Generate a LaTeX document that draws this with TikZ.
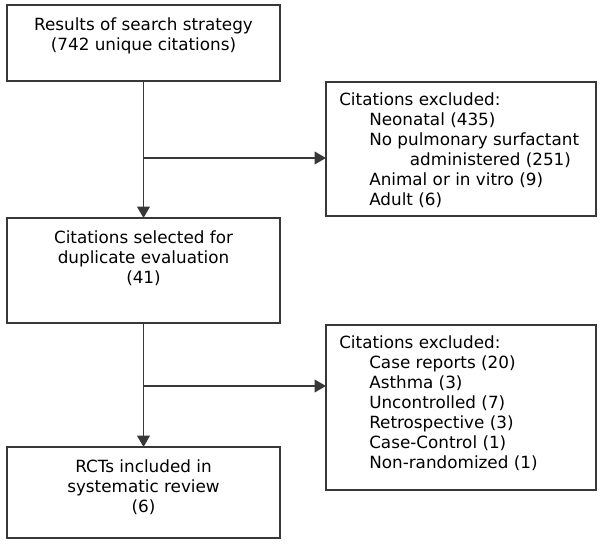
\documentclass[tikz,border=0pt]{standalone}
\usepackage{fontspec}
\setmainfont{DejaVu Sans}
\usepackage{tikz}
\usetikzlibrary{positioning,arrows.meta}

\begin{document}
\begin{tikzpicture}[x=0.75pt,y=-0.75pt,
	box/.style={shape=rectangle,draw=black!78,line width=1.1pt,inner sep=0pt,outer sep=0pt,minimum width=204.75pt},
	exbox/.style={box,minimum width=202.5pt},
	txt/.style={inner sep=0pt,font=\fontsize{12.6}{15}\selectfont},
	arr/.style={draw=black!78,line width=1.1pt,-{Triangle[length=8.5pt,width=9.5pt]}}]
	\useasboundingbox (0,0) rectangle (600,545);
	\node[box,minimum height=57pt] (search) at (143.5,43) {};
	\node[box,minimum height=78.75pt] (select) at (143.5,270.5) {};
	\node[box,minimum height=68.25pt] (rcts) at (143.5,492.5) {};
	\node[exbox,minimum height=100.5pt] (excla) at (461,149) {};
	\node[exbox,minimum height=123.75pt] (exclb) at (461,407.5) {};
	\node[txt,align=center,below=9.5pt of search.north] (searcht) {Results of search strategy\\(742 unique citations)};
	\node[txt,align=center,below=9.5pt of select.north] (selectt) {Citations selected for\\duplicate evaluation\\(41)};
	\node[txt,align=center,below=9.5pt of rcts.north] (rctst) {RCTs included in\\systematic review\\(6)};
	\node[txt,align=left,below right=8pt and 9.75pt of excla.north west] (exclat) {Citations excluded:\\
		\hspace*{22.5pt}Neonatal (435)\\
		\hspace*{22.5pt}No pulmonary surfactant\\
		\hspace*{53pt}administered (251)\\
		\hspace*{22.5pt}Animal or in vitro (9)\\
		\hspace*{22.5pt}Adult (6)};
	\node[txt,align=left,below right=7.5pt and 9.75pt of exclb.north west] (exclbt) {Citations excluded:\\
		\hspace*{22.5pt}Case reports (20)\\
		\hspace*{22.5pt}Asthma (3)\\
		\hspace*{22.5pt}Uncontrolled (7)\\
		\hspace*{22.5pt}Retrospective (3)\\
		\hspace*{22.5pt}Case-Control (1)\\
		\hspace*{22.5pt}Non-randomized (1)};
	\coordinate (ja) at (143.5,158);
	\coordinate (jb) at (143.5,386);
	\draw[arr] (search) -- (select);
	\draw[arr] (select) -- (rcts);
	\draw[arr] (ja) -- (ja -| excla.west);
	\draw[arr] (jb) -- (jb -| exclb.west);
\end{tikzpicture}
\end{document}
